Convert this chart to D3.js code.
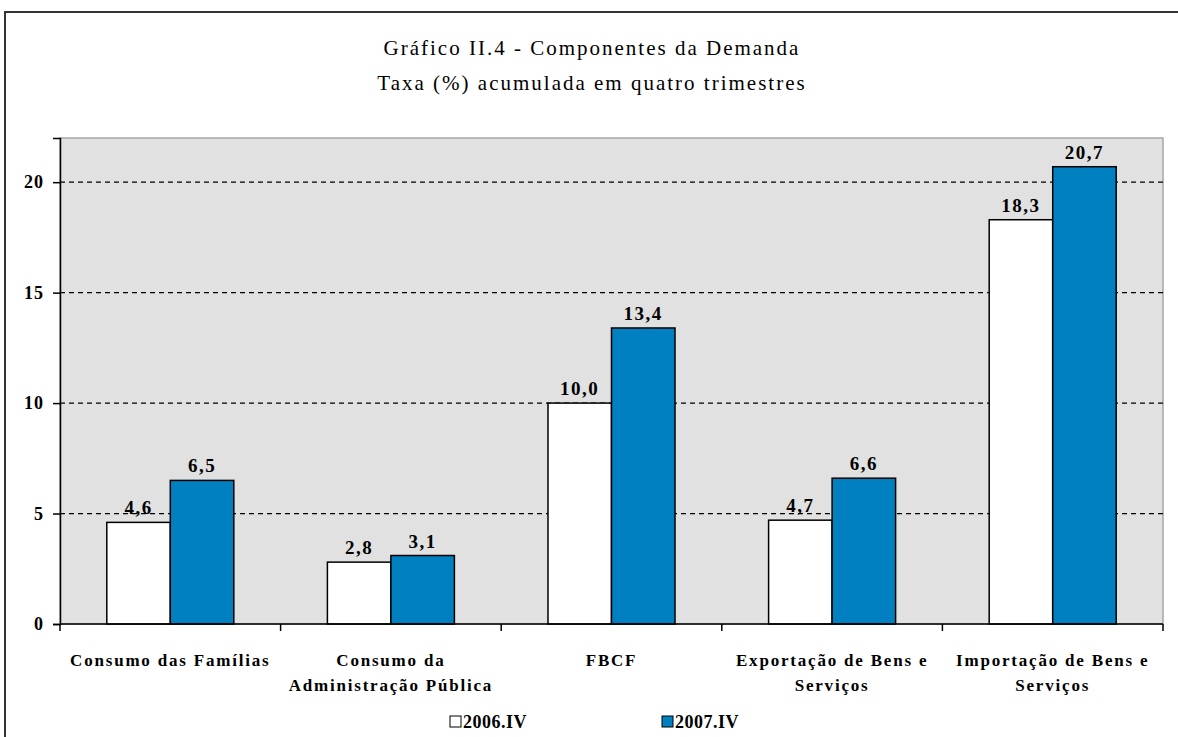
<!DOCTYPE html>
<html>
<head>
<meta charset="utf-8">
<script src="https://cdn.jsdelivr.net/npm/d3@7"></script>
<style>
  body { margin: 0; background: #fff; }
</style>
</head>
<body>
<svg id="chart" width="1178" height="737"></svg>
<script>
// chart data
const categories = [
  ["Consumo das Famílias"],
  ["Consumo da", "Administração Pública"],
  ["FBCF"],
  ["Exportação de Bens e", "Serviços"],
  ["Importação de Bens e", "Serviços"]
];
const seriesNames = ["2006.IV", "2007.IV"];
const values2006 = [4.6, 2.8, 10.0, 4.7, 18.3];
const values2007 = [6.5, 3.1, 13.4, 6.6, 20.7];
const yTicks = [0, 5, 10, 15, 20];

const colors = ["#ffffff", "#0080c0"];
const FONT = '"Liberation Serif", "Times New Roman", serif';

const svg = d3.select("#chart");

// outer frame
svg.append("rect")
  .attr("x", 5).attr("y", 12)
  .attr("width", 1200).attr("height", 760)
  .attr("fill", "none")
  .attr("stroke", "#333")
  .attr("stroke-width", 2);

// title
const titles = ["Gráfico II.4 - Componentes da Demanda", "Taxa (%) acumulada em quatro trimestres"];
svg.selectAll(".title")
  .data(titles)
  .join("text")
  .attr("class", "title")
  .attr("x", 592).attr("y", (d, i) => 55 + i * 35)
  .attr("text-anchor", "middle")
  .style("font-family", FONT)
  .style("font-size", "21px")
  .style("letter-spacing", "2px")
  .text(d => d);

const pLeft = 60, pRight = 1163, pTop = 138, pBottom = 624;
const catIdx = categories.map((d, i) => i);

const x = d3.scaleBand().domain(catIdx).range([pLeft, pRight]);
const xs = d3.scaleBand().domain([0, 1]).range([0, x.bandwidth()])
  .paddingInner(0).paddingOuter(0.737);
const y = d3.scaleLinear().domain([0, 22]).range([pBottom, pTop]);

// plot background
svg.append("rect")
  .attr("x", pLeft).attr("y", pTop)
  .attr("width", pRight - pLeft).attr("height", pBottom - pTop)
  .attr("fill", "#e1e1e1")
  .attr("stroke", "#a6a6a6")
  .attr("stroke-width", 1.5);

// dashed grid
svg.append("g")
  .selectAll("line")
  .data(yTicks.filter(t => t > 0))
  .join("line")
  .attr("x1", pLeft).attr("x2", pRight)
  .attr("y1", d => y(d)).attr("y2", d => y(d))
  .attr("stroke", "#000")
  .attr("stroke-width", 1.3)
  .attr("stroke-dasharray", "5,4");

// bars
const rows = catIdx.map(i => [values2006[i], values2007[i]]);
const grp = svg.append("g")
  .selectAll("g")
  .data(rows)
  .join("g")
  .attr("transform", (d, i) => `translate(${x(i)},0)`);

grp.selectAll("rect")
  .data(d => d)
  .join("rect")
  .attr("x", (d, j) => xs(j))
  .attr("y", d => y(d))
  .attr("width", xs.bandwidth())
  .attr("height", d => y(0) - y(d))
  .attr("fill", (d, j) => colors[j])
  .attr("stroke", "#000")
  .attr("stroke-width", 1.5);

grp.selectAll("text")
  .data(d => d)
  .join("text")
  .attr("x", (d, j) => xs(j) + xs.bandwidth() / 2)
  .attr("y", d => y(d) - 8)
  .attr("text-anchor", "middle")
  .style("font-family", FONT)
  .style("font-size", "19px")
  .style("font-weight", "bold")
  .style("letter-spacing", "1.5px")
  .text(d => d.toFixed(1).replace(".", ","));

// y axis
const yAxis = svg.append("g")
  .attr("transform", `translate(${pLeft},0)`)
  .call(d3.axisLeft(y).tickValues(yTicks).tickSize(7).tickPadding(9).tickFormat(d3.format("d")));
yAxis.select(".domain").attr("stroke", "#000").attr("stroke-width", 1.5);
yAxis.selectAll("line").attr("stroke-width", 1.5);
yAxis.selectAll("text")
  .style("font-family", FONT)
  .style("font-size", "18px")
  .style("font-weight", "bold")
  .style("letter-spacing", "1px");

// x axis with ticks at category boundaries
const xAxisG = svg.append("g");
xAxisG.append("line")
  .attr("x1", pLeft).attr("x2", pRight)
  .attr("y1", pBottom).attr("y2", pBottom)
  .attr("stroke", "#000").attr("stroke-width", 1.5);
xAxisG.selectAll(".tk")
  .data(catIdx.concat([categories.length]))
  .join("line")
  .attr("class", "tk")
  .attr("x1", d => d < categories.length ? x(d) : pRight)
  .attr("x2", d => d < categories.length ? x(d) : pRight)
  .attr("y1", pBottom).attr("y2", pBottom + 7)
  .attr("stroke", "#000").attr("stroke-width", 1.5);

const labels = xAxisG.selectAll(".cat")
  .data(categories)
  .join("text")
  .attr("class", "cat")
  .attr("x", (d, i) => x(i) + x.bandwidth() / 2)
  .attr("y", 666)
  .attr("text-anchor", "middle")
  .style("font-family", FONT)
  .style("font-size", "17px")
  .style("font-weight", "bold")
  .style("letter-spacing", "1.8px");
labels.selectAll("tspan")
  .data(d => d)
  .join("tspan")
  .attr("x", function () { return d3.select(this.parentNode).attr("x"); })
  .attr("dy", (d, k) => k === 0 ? 0 : 25)
  .text(d => d);

// legend
const legend = svg.append("g")
  .selectAll("g")
  .data(seriesNames)
  .join("g")
  .attr("transform", (d, i) => `translate(${i === 0 ? 450 : 662},716)`);
legend.append("rect")
  .attr("width", 11).attr("height", 11)
  .attr("fill", (d, i) => colors[i])
  .attr("stroke", "#000").attr("stroke-width", 1);
legend.append("text")
  .attr("x", 13).attr("y", 12)
  .style("font-family", FONT)
  .style("font-size", "18px")
  .style("font-weight", "bold")
  .style("letter-spacing", "0.5px")
  .text(d => d);
</script>
</body>
</html>
